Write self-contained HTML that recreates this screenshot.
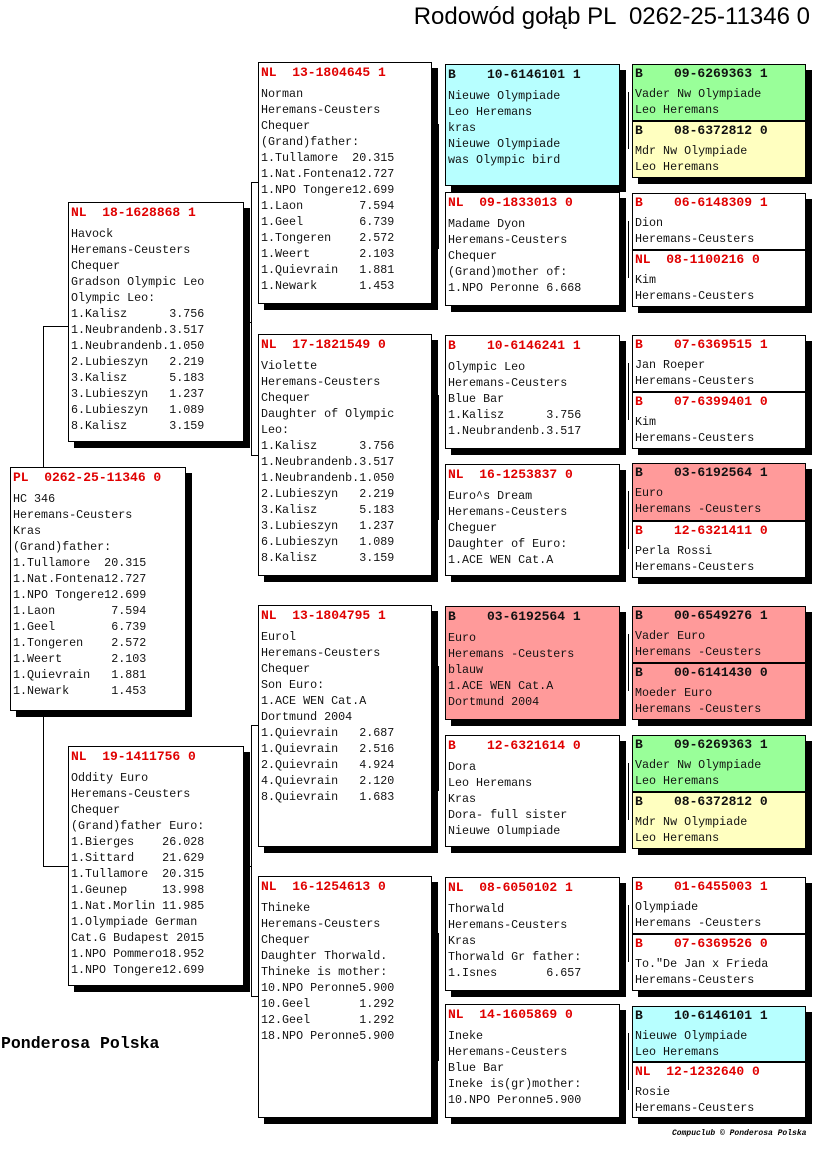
<!DOCTYPE html>
<html><head><meta charset="utf-8"><style>
body{margin:0;width:816px;height:1172px;background:#fff;position:relative;overflow:hidden}
.b{position:absolute;border:1px solid #000;background:#fff;box-shadow:6px 6px 0 #000;font-family:"Liberation Mono",monospace;font-size:11.7px;line-height:16px;padding-left:2px;white-space:pre;overflow:hidden;box-sizing:border-box;color:#111}
.h{font-weight:bold;font-size:13px;color:#e00000;line-height:20px;margin-bottom:3px}
.s .h{line-height:18px;margin-bottom:3px}
.k{color:#111}
.c{background:#b7ffff}.g{background:#99ff99}.y{background:#ffffc0}.r{background:#ff9a9a}
.l{position:absolute;background:#000}
</style></head><body>
<div style="position:absolute;right:6px;top:3px;font:24px 'Liberation Sans',sans-serif;white-space:pre">Rodowód gołąb PL  0262-25-11346 0</div>
<div style="position:absolute;left:1px;top:1034px;font:bold 16.5px 'Liberation Mono',monospace">Ponderosa Polska</div>
<div style="position:absolute;left:672px;top:1129px;font:italic bold 8px 'Liberation Mono',monospace">Compuclub © Ponderosa Polska</div>

<!-- connectors -->
<div class="l" style="left:43px;top:326px;width:1px;height:141px"></div>
<div class="l" style="left:43px;top:326px;width:26px;height:1px"></div>
<div class="l" style="left:43px;top:710px;width:1px;height:156px"></div>
<div class="l" style="left:43px;top:866px;width:26px;height:1px"></div>
<div class="l" style="left:251px;top:182px;width:1px;height:274px"></div>
<div class="l" style="left:243px;top:322px;width:9px;height:1px"></div>
<div class="l" style="left:251px;top:182px;width:8px;height:1px"></div>
<div class="l" style="left:251px;top:455px;width:8px;height:1px"></div>
<div class="l" style="left:251px;top:725px;width:1px;height:272px"></div>
<div class="l" style="left:243px;top:866px;width:9px;height:1px"></div>
<div class="l" style="left:251px;top:725px;width:8px;height:1px"></div>
<div class="l" style="left:251px;top:996px;width:8px;height:1px"></div>
<div class="l" style="left:438px;top:124px;width:1px;height:125px"></div>
<div class="l" style="left:438px;top:395px;width:1px;height:125px"></div>
<div class="l" style="left:438px;top:666px;width:1px;height:125px"></div>
<div class="l" style="left:438px;top:933px;width:1px;height:128px"></div>
<div class="l" style="left:628px;top:92px;width:1px;height:57px"></div>
<div class="l" style="left:628px;top:221px;width:1px;height:57px"></div>
<div class="l" style="left:628px;top:363px;width:1px;height:57px"></div>
<div class="l" style="left:628px;top:491px;width:1px;height:58px"></div>
<div class="l" style="left:628px;top:634px;width:1px;height:57px"></div>
<div class="l" style="left:628px;top:763px;width:1px;height:57px"></div>
<div class="l" style="left:628px;top:905px;width:1px;height:57px"></div>
<div class="l" style="left:628px;top:1033px;width:1px;height:57px"></div>

<!-- gen1 -->
<div class="b" style="left:10px;top:467px;width:176px;height:244px"><div class="h">PL  0262-25-11346 0</div>HC 346
Heremans-Ceusters
Kras
(Grand)father:
1.Tullamore  20.315
1.Nat.Fontena12.727
1.NPO Tongere12.699
1.Laon        7.594
1.Geel        6.739
1.Tongeren    2.572
1.Weert       2.103
1.Quievrain   1.881
1.Newark      1.453</div>

<!-- gen2 -->
<div class="b" style="left:68px;top:202px;width:176px;height:240px"><div class="h">NL  18-1628868 1</div>Havock
Heremans-Ceusters
Chequer
Gradson Olympic Leo
Olympic Leo:
1.Kalisz      3.756
1.Neubrandenb.3.517
1.Neubrandenb.1.050
2.Lubieszyn   2.219
3.Kalisz      5.183
3.Lubieszyn   1.237
6.Lubieszyn   1.089
8.Kalisz      3.159</div>
<div class="b" style="left:68px;top:746px;width:176px;height:240px"><div class="h">NL  19-1411756 0</div>Oddity Euro
Heremans-Ceusters
Chequer
(Grand)father Euro:
1.Bierges    26.028
1.Sittard    21.629
1.Tullamore  20.315
1.Geunep     13.998
1.Nat.Morlin 11.985
1.Olympiade German
Cat.G Budapest 2015
1.NPO Pommero18.952
1.NPO Tongere12.699</div>

<!-- gen3 -->
<div class="b" style="left:258px;top:62px;width:174px;height:242px"><div class="h">NL  13-1804645 1</div>Norman
Heremans-Ceusters
Chequer
(Grand)father:
1.Tullamore  20.315
1.Nat.Fontena12.727
1.NPO Tongere12.699
1.Laon        7.594
1.Geel        6.739
1.Tongeren    2.572
1.Weert       2.103
1.Quievrain   1.881
1.Newark      1.453</div>
<div class="b" style="left:258px;top:334px;width:174px;height:242px"><div class="h">NL  17-1821549 0</div>Violette
Heremans-Ceusters
Chequer
Daughter of Olympic
Leo:
1.Kalisz      3.756
1.Neubrandenb.3.517
1.Neubrandenb.1.050
2.Lubieszyn   2.219
3.Kalisz      5.183
3.Lubieszyn   1.237
6.Lubieszyn   1.089
8.Kalisz      3.159</div>
<div class="b" style="left:258px;top:605px;width:174px;height:242px"><div class="h">NL  13-1804795 1</div>Eurol
Heremans-Ceusters
Chequer
Son Euro:
1.ACE WEN Cat.A
Dortmund 2004
1.Quievrain   2.687
1.Quievrain   2.516
2.Quievrain   4.924
4.Quievrain   2.120
8.Quievrain   1.683</div>
<div class="b" style="left:258px;top:876px;width:174px;height:242px"><div class="h">NL  16-1254613 0</div>Thineke
Heremans-Ceusters
Chequer
Daughter Thorwald.
Thineke is mother:
10.NPO Peronne5.900
10.Geel       1.292
12.Geel       1.292
18.NPO Peronne5.900</div>

<!-- gen4 -->
<div class="b c" style="left:445px;top:64px;width:175px;height:122px"><div class="h k">B    10-6146101 1</div>Nieuwe Olympiade
Leo Heremans
kras
Nieuwe Olympiade
was Olympic bird</div>
<div class="b" style="left:445px;top:192px;width:175px;height:114px"><div class="h">NL  09-1833013 0</div>Madame Dyon
Heremans-Ceusters
Chequer
(Grand)mother of:
1.NPO Peronne 6.668</div>
<div class="b" style="left:445px;top:335px;width:175px;height:114px"><div class="h">B    10-6146241 1</div>Olympic Leo
Heremans-Ceusters
Blue Bar
1.Kalisz      3.756
1.Neubrandenb.3.517</div>
<div class="b" style="left:445px;top:464px;width:175px;height:112px"><div class="h">NL  16-1253837 0</div>Euro^s Dream
Heremans-Ceusters
Cheguer
Daughter of Euro:
1.ACE WEN Cat.A</div>
<div class="b r" style="left:445px;top:606px;width:175px;height:114px"><div class="h k">B    03-6192564 1</div>Euro
Heremans -Ceusters
blauw
1.ACE WEN Cat.A
Dortmund 2004</div>
<div class="b" style="left:445px;top:735px;width:175px;height:112px"><div class="h">B    12-6321614 0</div>Dora
Leo Heremans
Kras
Dora- full sister
Nieuwe Olumpiade</div>
<div class="b" style="left:445px;top:877px;width:175px;height:114px"><div class="h">NL  08-6050102 1</div>Thorwald
Heremans-Ceusters
Kras
Thorwald Gr father:
1.Isnes       6.657</div>
<div class="b" style="left:445px;top:1004px;width:175px;height:114px"><div class="h">NL  14-1605869 0</div>Ineke
Heremans-Ceusters
Blue Bar
Ineke is(gr)mother:
10.NPO Peronne5.900</div>

<!-- gen5 -->
<div class="b s g" style="left:632px;top:64px;width:174px;height:57px"><div class="h k">B    09-6269363 1</div>Vader Nw Olympiade
Leo Heremans</div>
<div class="b s y" style="left:632px;top:121px;width:174px;height:57px"><div class="h k">B    08-6372812 0</div>Mdr Nw Olympiade
Leo Heremans</div>
<div class="b s" style="left:632px;top:193px;width:174px;height:57px"><div class="h">B    06-6148309 1</div>Dion
Heremans-Ceusters</div>
<div class="b s" style="left:632px;top:250px;width:174px;height:57px"><div class="h">NL  08-1100216 0</div>Kim
Heremans-Ceusters</div>
<div class="b s" style="left:632px;top:335px;width:174px;height:57px"><div class="h">B    07-6369515 1</div>Jan Roeper
Heremans-Ceusters</div>
<div class="b s" style="left:632px;top:392px;width:174px;height:57px"><div class="h">B    07-6399401 0</div>Kim
Heremans-Ceusters</div>
<div class="b s r" style="left:632px;top:463px;width:174px;height:58px"><div class="h k">B    03-6192564 1</div>Euro
Heremans -Ceusters</div>
<div class="b s" style="left:632px;top:521px;width:174px;height:57px"><div class="h">B    12-6321411 0</div>Perla Rossi
Heremans-Ceusters</div>
<div class="b s r" style="left:632px;top:606px;width:174px;height:57px"><div class="h k">B    00-6549276 1</div>Vader Euro
Heremans -Ceusters</div>
<div class="b s r" style="left:632px;top:663px;width:174px;height:57px"><div class="h k">B    00-6141430 0</div>Moeder Euro
Heremans -Ceusters</div>
<div class="b s g" style="left:632px;top:735px;width:174px;height:57px"><div class="h k">B    09-6269363 1</div>Vader Nw Olympiade
Leo Heremans</div>
<div class="b s y" style="left:632px;top:792px;width:174px;height:57px"><div class="h k">B    08-6372812 0</div>Mdr Nw Olympiade
Leo Heremans</div>
<div class="b s" style="left:632px;top:877px;width:174px;height:57px"><div class="h">B    01-6455003 1</div>Olympiade
Heremans -Ceusters</div>
<div class="b s" style="left:632px;top:934px;width:174px;height:57px"><div class="h">B    07-6369526 0</div>To."De Jan x Frieda
Heremans-Ceusters</div>
<div class="b s c" style="left:632px;top:1006px;width:174px;height:56px"><div class="h k">B    10-6146101 1</div>Nieuwe Olympiade
Leo Heremans</div>
<div class="b s" style="left:632px;top:1062px;width:174px;height:56px"><div class="h">NL  12-1232640 0</div>Rosie
Heremans-Ceusters</div>
</body></html>
